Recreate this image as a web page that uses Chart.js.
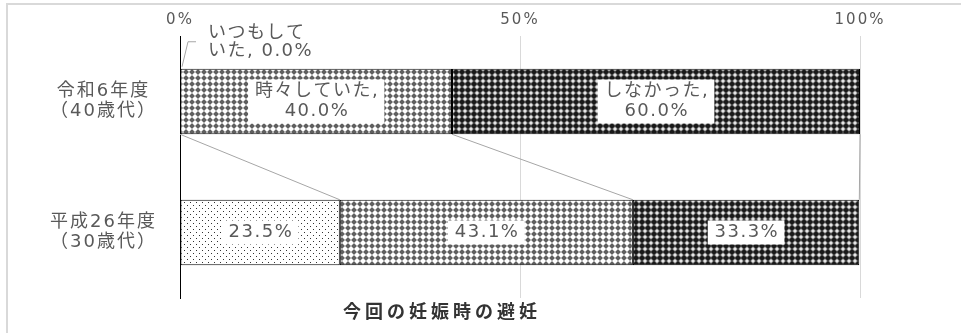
<!DOCTYPE html>
<html>
<head>
<meta charset="utf-8">
<script src="https://cdn.jsdelivr.net/npm/chart.js@4/dist/chart.umd.min.js"></script>
<style>
  html, body { margin: 0; padding: 0; background: #fff; overflow: hidden; }
  #wrap { position: relative; width: 961px; height: 333px; }
  #frame { position: absolute; left: 6px; top: 3px; width: 1000px; height: 400px;
           border: 2px solid #d9d9d9; box-sizing: border-box; }
  canvas { position: absolute; left: 0; top: 0; }
</style>
</head>
<body>
<div id="wrap">
  <div id="frame"></div>
  <canvas id="myChart" width="961" height="333"></canvas>
</div>
<script>
// data
var categories = [['令和6年度', '（40歳代）'], ['平成26年度', '（30歳代）']];
var seriesNames = ['いつもしていた', '時々していた', 'しなかった'];
var alwaysValues = [0.0, 23.5];
var sometimesValues = [40.0, 43.1];
var neverValues = [60.0, 33.3];
var xTickValues = [0, 50, 100];
var showNameInLabel = [true, false];
var chartTitle = '今回の妊娠時の避妊';

var family = '"DejaVu Sans", "Noto Sans CJK JP", sans-serif';
Chart.defaults.font.family = family;

// fill patterns
function makePattern(w, h, shade) {
  var c = document.createElement('canvas');
  c.width = w; c.height = h;
  var g = c.getContext('2d');
  var img = g.createImageData(w, h);
  for (var y = 0; y < h; y++) {
    for (var x = 0; x < w; x++) {
      var v = shade(x, y);
      var i = (y * w + x) * 4;
      img.data[i] = img.data[i + 1] = img.data[i + 2] = v;
      img.data[i + 3] = 255;
    }
  }
  g.putImageData(img, 0, 0);
  return g.createPattern(c, 'repeat');
}

function dist(x, y) { return Math.abs(x - 2.5) + Math.abs(y - 2.5); }

var dotFill = makePattern(6, 6, function (x, y) {
  return ((x === 1 && y === 1) || (x === 4 && y === 4)) ? 50 : 255;
});
var lightFill = makePattern(6, 6, function (x, y) {
  var d = dist(x, y);
  return d <= 2 ? 255 : (d <= 3 ? 185 : 95);
});
var darkFill = makePattern(6, 6, function (x, y) {
  var d = dist(x, y);
  return d <= 1 ? 230 : (d <= 2 ? 165 : (d <= 3 ? 70 : 25));
});

var spacingPlugin = {
  id: 'spacing',
  beforeUpdate: function (chart) { chart.ctx.letterSpacing = '2px'; },
  beforeDraw: function (chart) { chart.ctx.letterSpacing = '2px'; }
};

// series lines between the two bars
var seriesLines = {
  id: 'seriesLines',
  beforeDatasetsDraw: function (chart) {
    var g = chart.ctx;
    g.save();
    g.strokeStyle = '#a6a6a6';
    g.lineWidth = 1;
    chart.data.datasets.forEach(function (ds, i) {
      var pts = chart.getDatasetMeta(i).data;
      g.beginPath();
      g.moveTo(pts[0].x, pts[0].y + pts[0].height / 2);
      g.lineTo(pts[1].x, pts[1].y - pts[1].height / 2);
      g.stroke();
    });
    g.restore();
  }
};

function drawBoxed(g, lines, cx, cy) {
  var lh = 20;
  var w = 0;
  lines.forEach(function (l) { w = Math.max(w, g.measureText(l).width); });
  var h = lines.length * lh;
  g.fillStyle = '#fff';
  g.fillRect(cx - w / 2 - 6, cy - h / 2 - 2, w + 12, h + 4);
  g.fillStyle = '#595959';
  g.textAlign = 'center';
  g.textBaseline = 'middle';
  lines.forEach(function (l, k) {
    g.fillText(l, cx + 0.75, cy - h / 2 + lh * (k + 0.5));
  });
}

var dataLabels = {
  id: 'dataLabels',
  afterDatasetsDraw: function (chart) {
    var g = chart.ctx;
    g.save();
    g.font = '18px ' + family;
    g.letterSpacing = '1.5px';
    chart.data.datasets.forEach(function (ds, i) {
      var pts = chart.getDatasetMeta(i).data;
      ds.data.forEach(function (v, j) {
        var p = pts[j];
        var pct = v.toFixed(1) + '%';
        if (v === 0) {
          // outside label with leader line
          var top = p.y - p.height / 2;
          g.strokeStyle = '#a6a6a6';
          g.lineWidth = 1;
          g.beginPath();
          g.moveTo(p.base + 2, top - 2);
          g.lineTo(p.base + 8, top - 27);
          g.lineTo(p.base + 16, top - 27);
          g.stroke();
          var name = seriesNames[i];
          g.fillStyle = '#595959';
          g.textAlign = 'left';
          g.textBaseline = 'middle';
          g.fillText(name.slice(0, 5), p.base + 28, top - 35);
          g.fillText(name.slice(5) + ', ' + pct, p.base + 28, top - 17);
          return;
        }
        var lines = showNameInLabel[j] ? [seriesNames[i] + ',', pct] : [pct];
        drawBoxed(g, lines, (p.x + p.base) / 2, p.y);
      });
    });
    g.restore();
  }
};

var titlePlugin = {
  id: 'bottomTitle',
  afterDraw: function (chart) {
    var g = chart.ctx;
    g.save();
    g.font = 'bold 18px ' + family;
    g.letterSpacing = '4px';
    g.fillStyle = '#333333';
    g.textAlign = 'left';
    g.textBaseline = 'middle';
    g.fillText(chartTitle, 343, 313);
    g.restore();
  }
};

var ctx = document.getElementById('myChart');
var myChart = new Chart(ctx, {
  type: 'bar',
  data: {
    labels: categories,
    datasets: [
      { label: seriesNames[0], data: alwaysValues, backgroundColor: dotFill },
      { label: seriesNames[1], data: sometimesValues, backgroundColor: lightFill },
      { label: seriesNames[2], data: neverValues, backgroundColor: darkFill }
    ]
  },
  options: {
    indexAxis: 'y',
    responsive: false,
    animation: false,
    layout: { padding: { left: 0, top: 0, right: 101, bottom: 35 } },
    datasets: {
      bar: {
        barPercentage: 0.5,
        categoryPercentage: 1,
        borderColor: '#000',
        borderWidth: 1,
        borderSkipped: false
      }
    },
    plugins: {
      legend: { display: false },
      tooltip: { enabled: false }
    },
    scales: {
      x: {
        position: 'top',
        stacked: true,
        min: 0,
        max: 100,
        afterFit: function (s) { s.height = 36; },
        afterBuildTicks: function (s) {
          s.ticks = xTickValues.map(function (v) { return { value: v }; });
        },
        ticks: {
          callback: function (v) { return v + '%'; },
          color: '#595959',
          font: { size: 15 },
          padding: 7,
          maxRotation: 0
        },
        grid: {
          color: function (c) { return c.tick && c.tick.value === 0 ? 'rgba(0,0,0,0)' : '#d9d9d9'; },
          drawTicks: false
        },
        border: { display: false }
      },
      y: {
        stacked: true,
        afterFit: function (s) {
          s.width = 180;
          s.paddingTop = 0;
          s.paddingBottom = 0;
        },
        ticks: {
          color: '#595959',
          font: { size: 18, lineHeight: 20 / 18 },
          crossAlign: 'center',
          padding: 23
        },
        grid: { display: false, drawTicks: false },
        border: { display: true, color: '#000', width: 1 }
      }
    }
  },
  plugins: [spacingPlugin, seriesLines, dataLabels, titlePlugin]
});
</script>
</body>
</html>
